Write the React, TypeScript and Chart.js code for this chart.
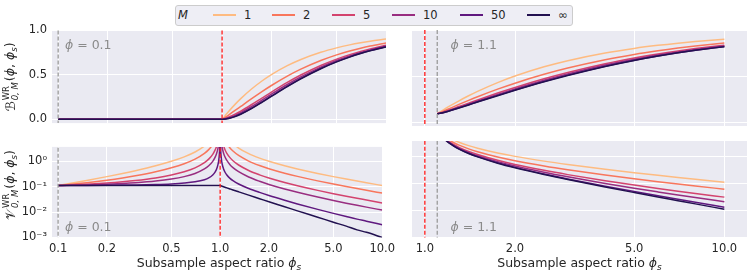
import React, { useEffect, useRef } from "react";
import { Chart, registerables } from "chart.js";

Chart.register(...registerables);

const FONT = "'DejaVu Sans', 'Noto Sans', sans-serif";
const TEXT = "#262626";
const BG = "#EAEAF2";

const M_LABELS = ["1", "2", "5", "10", "50", "\u221e"];
const M_COLORS = ["#febb81", "#f8765c", "#d3436e", "#982d80", "#5f187f", "#221150"];

// ---------- Top-left: bias, phi = 0.1 ----------
const X_TL = [0.1, 1, 1.05, 1.1, 1.2, 1.3, 1.5, 1.75, 2, 2.5, 3, 4, 5, 6, 7, 8, 10];
const B1_TL = [0, 0, 0.0476, 0.0909, 0.1667, 0.2308, 0.3333, 0.4286, 0.5, 0.6, 0.6667, 0.75, 0.8, 0.8333, 0.8571, 0.875, 0.9];
const B2_TL = [0, 0, 0.0251, 0.05, 0.0983, 0.1437, 0.2248, 0.3093, 0.3782, 0.483, 0.5581, 0.658, 0.7213, 0.7649, 0.7967, 0.8209, 0.8554];
const B5_TL = [0, 0, 0.0115, 0.0254, 0.0573, 0.0914, 0.1597, 0.2376, 0.3051, 0.4127, 0.4929, 0.6028, 0.6741, 0.7238, 0.7604, 0.7884, 0.8286];
const B10_TL = [0, 0, 0.007, 0.0172, 0.0436, 0.074, 0.138, 0.2138, 0.2808, 0.3893, 0.4711, 0.5844, 0.6583, 0.7101, 0.7483, 0.7776, 0.8197];
const B50_TL = [0, 0, 0.0034, 0.0106, 0.0326, 0.0601, 0.1206, 0.1947, 0.2613, 0.3706, 0.4537, 0.5697, 0.6457, 0.6991, 0.7386, 0.769, 0.8126];
const BINF_TL = [0, 0, 0.0025, 0.009, 0.0299, 0.0566, 0.1163, 0.1899, 0.2564, 0.3659, 0.4494, 0.566, 0.6426, 0.6964, 0.7362, 0.7668, 0.8108];

// ---------- Top-right: bias, phi = 1.1 ----------
const X_TR = [1.1, 1.15, 1.2, 1.3, 1.4, 1.5, 1.75, 2, 2.5, 3, 4, 5, 6, 7, 8, 10];
const B1_TR = [0.0909, 0.1304, 0.1667, 0.2308, 0.2857, 0.3333, 0.4286, 0.5, 0.6, 0.6667, 0.75, 0.8, 0.8333, 0.8571, 0.875, 0.9];
const B2_TR = [0.0909, 0.1158, 0.1422, 0.1917, 0.2359, 0.2754, 0.3576, 0.4224, 0.5185, 0.5865, 0.677, 0.7348, 0.7748, 0.8044, 0.827, 0.8595];
const B5_TR = [0.0909, 0.107, 0.1274, 0.1682, 0.2059, 0.2406, 0.315, 0.3758, 0.4695, 0.5384, 0.6332, 0.6956, 0.7397, 0.7727, 0.7982, 0.8352];
const B10_TR = [0.0909, 0.104, 0.1225, 0.1603, 0.196, 0.229, 0.3008, 0.3603, 0.4532, 0.5223, 0.6186, 0.6826, 0.728, 0.7622, 0.7886, 0.8271];
const B50_TR = [0.0909, 0.1017, 0.1186, 0.1541, 0.188, 0.2197, 0.2894, 0.3479, 0.4402, 0.5095, 0.6069, 0.6721, 0.7186, 0.7537, 0.7809, 0.8206];
const BINF_TR = [0.0909, 0.1011, 0.1176, 0.1525, 0.186, 0.2174, 0.2866, 0.3448, 0.4369, 0.5063, 0.604, 0.6695, 0.7163, 0.7516, 0.779, 0.819];

// ---------- Bottom-left: variance, phi = 0.1 ----------
const X_BL = [0.1, 0.12, 0.15, 0.2, 0.25, 0.3, 0.4, 0.5, 0.6, 0.7, 0.8, 0.85, 0.9, 0.93, 0.95, 0.97, 0.98, 0.99, 0.995, 1,
  1.005, 1.01, 1.02, 1.03, 1.05, 1.07, 1.1, 1.15, 1.2, 1.3, 1.5, 1.75, 2, 2.5, 3, 4, 5, 6, 7, 8, 10];
const V1_BL = [0.1111, 0.1364, 0.1765, 0.25, 0.3333, 0.4286, 0.6667, 1, 1.5, 2.333, 4, 5.667, 9, 13.29, 19, 32.33, 49, 99, 199, null,
  200, 100, 50, 33.33, 20, 14.29, 10, 6.667, 5, 3.333, 2, 1.333, 1, 0.6667, 0.5, 0.3333, 0.25, 0.2, 0.1667, 0.1429, 0.1111];
const V2_BL = [0.1111, 0.1238, 0.1438, 0.1806, 0.2222, 0.2698, 0.3889, 0.5556, 0.8056, 1.222, 2.056, 2.889, 4.556, 6.7, 9.56, 16.22, 24.56, 49.56, 99.56, null,
  100.05, 50.05, 25.05, 16.72, 10.05, 7.19, 5.045, 3.374, 2.537, 1.698, 1.023, 0.6836, 0.5128, 0.3415, 0.2556, 0.1698, 0.127, 0.1014, 0.0843, 0.0722, 0.0561];
const V5_BL = [0.1111, 0.1162, 0.1242, 0.1389, 0.1556, 0.1746, 0.2222, 0.2889, 0.3889, 0.5556, 0.8889, 1.222, 1.889, 2.747, 3.889, 6.556, 9.889, 19.89, 39.89, null,
  40.09, 20.09, 10.08, 6.75, 4.08, 2.934, 2.072, 1.399, 1.06, 0.7169, 0.4371, 0.2937, 0.2205, 0.1464, 0.109, 0.0717, 0.0532, 0.0422, 0.0349, 0.0299, 0.023];
const V10_BL = [0.1111, 0.1136, 0.1176, 0.125, 0.1333, 0.1429, 0.1667, 0.2, 0.25, 0.3333, 0.5, 0.6667, 1, 1.429, 2, 3.333, 5, 10, 20, null,
  20.1, 10.1, 5.095, 3.427, 2.09, 1.515, 1.081, 0.7403, 0.5671, 0.3899, 0.2418, 0.1638, 0.123, 0.0813, 0.0601, 0.039, 0.0286, 0.0225, 0.0185, 0.0157, 0.012];
const V50_BL = [0.1111, 0.1116, 0.1124, 0.1139, 0.1156, 0.1175, 0.1222, 0.1289, 0.1389, 0.1556, 0.1889, 0.2222, 0.2889, 0.3747, 0.4889, 0.7556, 1.089, 2.089, 4.089, null,
  4.108, 2.107, 1.104, 0.7687, 0.4978, 0.3795, 0.2883, 0.2135, 0.1731, 0.1283, 0.0856, 0.0598, 0.0451, 0.0293, 0.021, 0.0128, 0.0089, 0.0067, 0.0053, 0.0044, 0.0032];
const VINF_BL = [0.1111, 0.1111, 0.1111, 0.1111, 0.1111, 0.1111, 0.1111, 0.1111, 0.1111, 0.1111, 0.1111, 0.1111, 0.1111, 0.1111, 0.1111, 0.1111, 0.1111, 0.1111, 0.1111, 0.1111,
  0.1099, 0.1087, 0.1063, 0.1041, 0.0998, 0.0957, 0.0901, 0.0818, 0.0746, 0.0629, 0.0465, 0.0338, 0.0256, 0.0163, 0.0112, 0.0063, 0.004, 0.0028, 0.002, 0.0016, 0.001];

// ---------- Bottom-right: variance, phi = 1.1 ----------
const X_BR = [1.1, 1.12, 1.15, 1.18, 1.2, 1.25, 1.3, 1.4, 1.5, 1.75, 2, 2.5, 3, 4, 5, 6, 7, 8, 10];
const V1_BR = [10, 8.333, 6.667, 5.556, 5, 4, 3.333, 2.5, 2, 1.333, 1, 0.6667, 0.5, 0.3333, 0.25, 0.2, 0.1667, 0.1429, 0.1111];
const V2_BR = [10, 7.729, 5.806, 4.659, 4.118, 3.189, 2.599, 1.89, 1.478, 0.9469, 0.6897, 0.4402, 0.3196, 0.2036, 0.148, 0.1158, 0.0948, 0.0802, 0.0611];
const V5_BR = [10, 7.366, 5.289, 4.121, 3.588, 2.702, 2.158, 1.523, 1.165, 0.7151, 0.5034, 0.3042, 0.2114, 0.1257, 0.0868, 0.0652, 0.0517, 0.0426, 0.0311];
const V10_BR = [10, 7.245, 5.116, 3.941, 3.412, 2.54, 2.011, 1.401, 1.061, 0.6378, 0.4414, 0.2589, 0.1753, 0.0998, 0.0664, 0.0484, 0.0373, 0.03, 0.0211];
const V50_BR = [10, 7.148, 4.978, 3.798, 3.27, 2.41, 1.893, 1.303, 0.9774, 0.576, 0.3917, 0.2227, 0.1464, 0.079, 0.0501, 0.0349, 0.0258, 0.02, 0.0131];
const VINF_BR = [10, 7.124, 4.944, 3.762, 3.235, 2.378, 1.864, 1.279, 0.9565, 0.5605, 0.3793, 0.2136, 0.1392, 0.0738, 0.046, 0.0315, 0.023, 0.0175, 0.0111];

// ---------- ticks ----------
const X_TICKS_LEFT = [0.1, 0.2, 0.5, 1, 2, 5, 10];
const X_TICKS_RIGHT = [1, 2, 5, 10];
const Y_TICKS_BIAS = [0, 0.5, 1];
const Y_TICKS_VAR = [0.001, 0.01, 0.1, 1];

const SUP: Record<string, string> = { "-": "\u207b", "0": "\u2070", "1": "\u00b9", "2": "\u00b2", "3": "\u00b3", "4": "\u2074", "5": "\u2075", "6": "\u2076", "7": "\u2077", "8": "\u2078", "9": "\u2079" };
const supStr = (n: number) => String(n).split("").map((c) => SUP[c] || c).join("");

const bgPlugin = {
  id: "axbg",
  beforeDraw(chart: any) {
    const { ctx, chartArea } = chart;
    if (!chartArea) return;
    ctx.save();
    ctx.fillStyle = BG;
    ctx.fillRect(chartArea.left, chartArea.top, chartArea.right - chartArea.left, chartArea.bottom - chartArea.top);
    ctx.restore();
  },
};

type Panel = {
  xs: number[];
  series: (number | null)[][];
  phi: number;
  xMin: number; xMax: number; xTicks: number[];
  logY: boolean; yMin: number; yMax: number; yTicks: number[];
  showX: boolean; showY: boolean;
  box: { left: number; top: number; width: number; height: number };
  pad: { left: number; right: number; top: number; bottom: number };
  yAxisW: number; xAxisH: number;
};

const PANELS: Panel[] = [
  {
    xs: X_TL, series: [B1_TL, B2_TL, B5_TL, B10_TL, B50_TL, BINF_TL], phi: 0.1,
    xMin: 0.0917, xMax: 10, xTicks: X_TICKS_LEFT,
    logY: false, yMin: -0.043, yMax: 1, yTicks: Y_TICKS_BIAS,
    showX: false, showY: true,
    box: { left: 0, top: 0, width: 400, height: 135 },
    pad: { left: 0, right: 14, top: 30, bottom: 9 },
    yAxisW: 52, xAxisH: 0,
  },
  {
    xs: X_TR, series: [B1_TR, B2_TR, B5_TR, B10_TR, B50_TR, BINF_TR], phi: 1.1,
    xMin: 0.906, xMax: 11.9, xTicks: X_TICKS_RIGHT,
    logY: false, yMin: -0.043, yMax: 1, yTicks: Y_TICKS_BIAS,
    showX: false, showY: false,
    box: { left: 400, top: 0, width: 348, height: 135 },
    pad: { left: 12, right: 1, top: 30, bottom: 9 },
    yAxisW: 0, xAxisH: 0,
  },
  {
    xs: X_BL, series: [V1_BL, V2_BL, V5_BL, V10_BL, V50_BL, VINF_BL], phi: 0.1,
    xMin: 0.0917, xMax: 10, xTicks: X_TICKS_LEFT,
    logY: true, yMin: 0.001, yMax: 3.7, yTicks: Y_TICKS_VAR,
    showX: true, showY: true,
    box: { left: 0, top: 135, width: 400, height: 135 },
    pad: { left: 0, right: 14, top: 6, bottom: 12.5 },
    yAxisW: 52, xAxisH: 20,
  },
  {
    xs: X_BR, series: [V1_BR, V2_BR, V5_BR, V10_BR, V50_BR, VINF_BR], phi: 1.1,
    xMin: 0.906, xMax: 11.9, xTicks: X_TICKS_RIGHT,
    logY: true, yMin: 0.001, yMax: 3.7, yTicks: Y_TICKS_VAR,
    showX: true, showY: false,
    box: { left: 400, top: 135, width: 348, height: 135 },
    pad: { left: 12, right: 1, top: 6, bottom: 12.5 },
    yAxisW: 0, xAxisH: 20,
  },
];

function PanelChart({ p }: { p: Panel }) {
  const ref = useRef<HTMLCanvasElement | null>(null);
  useEffect(() => {
    const canvas = ref.current;
    if (!canvas) return;
    const datasets: any[] = p.series.map((ys, k) => ({
      label: M_LABELS[k],
      data: p.xs.map((x, i) => ({ x, y: ys[i] })),
      borderColor: M_COLORS[k],
      backgroundColor: M_COLORS[k],
      borderWidth: 1.5,
      pointRadius: 0,
      cubicInterpolationMode: "monotone",
      spanGaps: false,
      fill: false,
      order: 10 - k,
    }));
    const yLo = p.logY ? 1e-6 : -1;
    const yHi = p.logY ? 1e3 : 2;
    datasets.push({
      label: "phi", data: [{ x: p.phi, y: yLo }, { x: p.phi, y: yHi }],
      borderColor: "#9a9a9a", borderDash: [4, 2], borderWidth: 1.3, pointRadius: 0, tension: 0, order: 1,
    });
    datasets.push({
      label: "one", data: [{ x: 1, y: yLo }, { x: 1, y: yHi }],
      borderColor: "#ff1a1a", borderDash: [4, 2], borderWidth: 1.3, pointRadius: 0, tension: 0, order: 0,
    });
    const tickFont = { family: FONT, size: 11.5 };
    const chart = new Chart(canvas, {
      type: "line",
      data: { datasets },
      plugins: [bgPlugin],
      options: {
        animation: false,
        responsive: false,
        maintainAspectRatio: false,
        devicePixelRatio: 1,
        events: [],
        layout: { padding: p.pad, autoPadding: false },
        plugins: { legend: { display: false }, tooltip: { enabled: false }, title: { display: false } },
        scales: {
          x: {
            type: "logarithmic",
            min: p.xMin,
            max: p.xMax,
            afterBuildTicks: (axis: any) => { axis.ticks = p.xTicks.map((v) => ({ value: v })); },
            afterFit: (axis: any) => { axis.height = p.xAxisH; },
            ticks: {
              display: p.showX,
              autoSkip: false,
              maxRotation: 0,
              minRotation: 0,
              padding: 5,
              color: TEXT,
              font: tickFont,
              callback: (v: any) => Number(v).toFixed(1),
            },
            grid: { color: "#ffffff", lineWidth: 1, drawTicks: false },
            border: { display: false },
          },
          y: {
            type: p.logY ? "logarithmic" : "linear",
            min: p.yMin,
            max: p.yMax,
            afterBuildTicks: (axis: any) => { axis.ticks = p.yTicks.map((v) => ({ value: v })); },
            afterFit: (axis: any) => { axis.width = p.yAxisW; },
            ticks: {
              display: p.showY,
              autoSkip: false,
              padding: 5,
              color: TEXT,
              font: tickFont,
              callback: (v: any) => p.logY ? "10" + supStr(Math.round(Math.log10(Number(v)))) : Number(v).toFixed(1),
            },
            grid: { color: "#ffffff", lineWidth: 1, drawTicks: false },
            border: { display: false },
          },
        },
      } as any,
    });
    return () => chart.destroy();
  }, [p]);
  return (
    <canvas
      ref={ref}
      width={p.box.width}
      height={p.box.height}
      style={{ position: "absolute", left: p.box.left, top: p.box.top, width: p.box.width, height: p.box.height }}
    />
  );
}

function YLabel({ letter, cx, cy }: { letter: string; cx: number; cy: number }) {
  return (
    <div
      style={{
        position: "absolute", left: cx, top: cy,
        transform: "translate(-50%, -50%) rotate(-90deg)",
        whiteSpace: "nowrap", fontFamily: FONT, fontSize: 12.5, color: TEXT,
        display: "flex", alignItems: "center", lineHeight: "15px",
      }}
    >
      <span style={{ fontSize: 13 }}>{letter}</span>
      <span style={{ display: "inline-flex", flexDirection: "column", fontSize: 8.5, lineHeight: "8.5px", marginLeft: 1, marginRight: 1 }}>
        <span>WR</span>
        <span style={{ fontStyle: "italic" }}>0, M</span>
      </span>
      <span>
        (<i>{"\u03d5"}</i>, <i>{"\u03d5"}</i><i style={{ fontSize: 8.5, position: "relative", top: 3 }}>s</i>)
      </span>
    </div>
  );
}

function Note({ text, left, cy }: { text: string; left: number; cy: number }) {
  return (
    <div style={{ position: "absolute", left, top: cy - 7.5, lineHeight: "15px", fontFamily: FONT, fontSize: 12.5, color: "#8a8a8a", whiteSpace: "nowrap" }}>
      <i>{"\u03d5"}</i> = {text}
    </div>
  );
}

function XTitle({ cx }: { cx: number }) {
  return (
    <div style={{ position: "absolute", left: cx, top: 263, transform: "translate(-50%, -50%)", lineHeight: "15px", fontFamily: FONT, fontSize: 12.5, color: TEXT, whiteSpace: "nowrap" }}>
      Subsample aspect ratio <i>{"\u03d5"}</i><i style={{ fontSize: 9, position: "relative", top: 3 }}>s</i>
    </div>
  );
}

const LEG_HANDLE_X = [213, 272, 332, 392, 460, 527];

function Legend() {
  return (
    <>
      <div style={{ position: "absolute", left: 175, top: 5, width: 398, height: 21, boxSizing: "border-box", background: "#EEEEF5", border: "1px solid #cccccc", borderRadius: 3 }} />
      <div style={{ position: "absolute", left: 178, top: 8, lineHeight: "15px", fontFamily: FONT, fontSize: 11.5, color: TEXT, fontStyle: "italic" }}>M</div>
      {M_LABELS.map((lab, k) => (
        <React.Fragment key={lab}>
          <div style={{ position: "absolute", left: LEG_HANDLE_X[k], top: 14, width: 23, height: 2, background: M_COLORS[k] }} />
          <div style={{ position: "absolute", left: LEG_HANDLE_X[k] + 31, top: 8, lineHeight: "15px", fontFamily: FONT, fontSize: 11.5, color: TEXT }}>{lab}</div>
        </React.Fragment>
      ))}
    </>
  );
}

export default function App() {
  return (
    <div style={{ position: "absolute", left: 0, top: 0, width: 748, height: 270, background: "#ffffff", overflow: "hidden" }}>
      {PANELS.map((p, i) => <PanelChart key={i} p={p} />)}
      <Legend />
      <YLabel letter={"\u212c"} cx={10} cy={77} />
      <YLabel letter={"\ud835\udcb1"} cx={10} cy={185} />
      <Note text="0.1" left={65} cy={44} />
      <Note text="1.1" left={450.5} cy={44} />
      <Note text="0.1" left={65} cy={226} />
      <Note text="1.1" left={450.5} cy={226} />
      <XTitle cx={219} />
      <XTitle cx={579.5} />
    </div>
  );
}
